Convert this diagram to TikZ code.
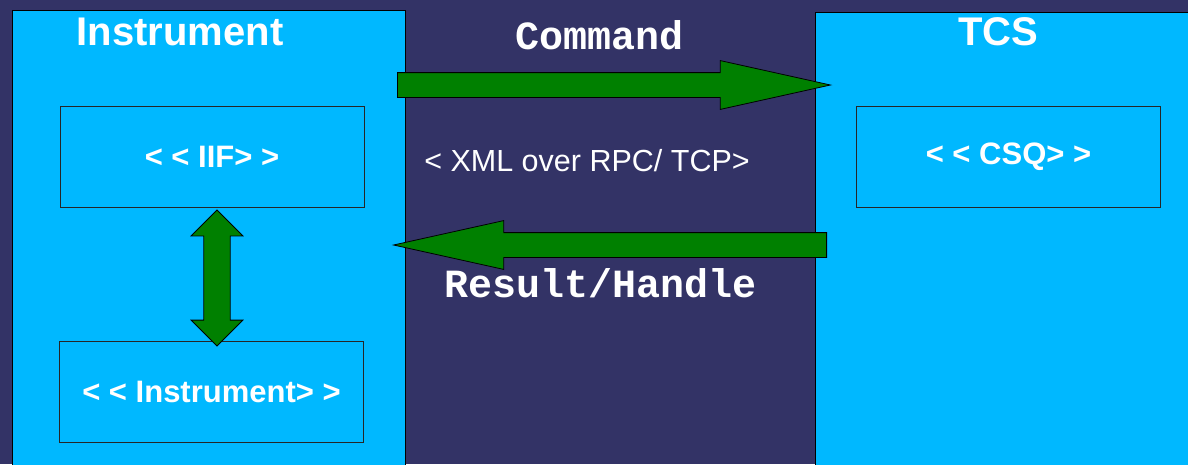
\documentclass[tikz,border=0pt]{standalone}
\usepackage{fontspec}
\setmainfont{Liberation Sans}
\setmonofont{Liberation Mono}
\usetikzlibrary{shapes.arrows}

\definecolor{slidebg}{RGB}{51,51,102}
\definecolor{panelcyan}{RGB}{0,184,255}
\definecolor{arrowgreen}{RGB}{0,128,0}

\tikzset{
    panel/.style={draw=black, line width=1pt, fill=panelcyan},
    classbox/.style={draw=black!85, line width=1pt, fill=panelcyan, minimum width=304pt, minimum height=101pt, inner sep=0pt, text=white, font=\bfseries\fontsize{31}{31}\selectfont},
    paneltitle/.style={text=white, font=\bfseries\fontsize{40}{40}\selectfont},
    msgtitle/.style={text=white, font=\ttfamily\bfseries\fontsize{40}{40}\selectfont},
    fatarrow/.style={single arrow, draw=black, line width=0.8pt, fill=arrowgreen, text height=0pt, text depth=0pt, inner xsep=0pt, inner ysep=12pt, minimum height=433pt, single arrow head extend=12pt, single arrow tip angle=25, anchor=tail},
    linkarrow/.style={double arrow, draw=black, line width=0.8pt, fill=arrowgreen, text height=0pt, text depth=0pt, inner xsep=0pt, inner ysep=12.8pt, minimum height=136pt, double arrow head extend=12.7pt, double arrow tip angle=90}
}

\begin{document}
\begin{tikzpicture}[x=1pt,y=-1pt]
            \useasboundingbox (0,0) rectangle (1188,464);
            \fill[slidebg] (0,0) rectangle (1188,464);
            \draw[panel] (12,10) rectangle (405,468);
            \draw[panel] (815,12) rectangle (1192,468);

            \node[paneltitle] (instrtitle) at (180,32) {Instrument};
            \node[paneltitle] (tcstitle) at (998,32) {TCS};
            \node[msgtitle] (cmdtitle) at (600,35) {Command};
            \node[msgtitle] (restitle) at (601,283) {Result/Handle};
            \node[text=white, font=\fontsize{30.5}{30.5}\selectfont] (proto) at (587,161) {< XML over RPC/ TCP>};

            \node[classbox] (iif) at (212,156.5) {< < IIF> >};
            \node[classbox] (csq) at (1008.5,156.5) {< < CSQ> >};
            \node[classbox] (instr) at (211.5,392) {< < Instrument> >};

            \node[fatarrow] (cmd) at (397,85) {};
            \node[fatarrow, rotate=180] (res) at (827,245) {};
            \node[linkarrow, rotate=90] (link) at (217,278) {};
        \end{tikzpicture}
\end{document}
